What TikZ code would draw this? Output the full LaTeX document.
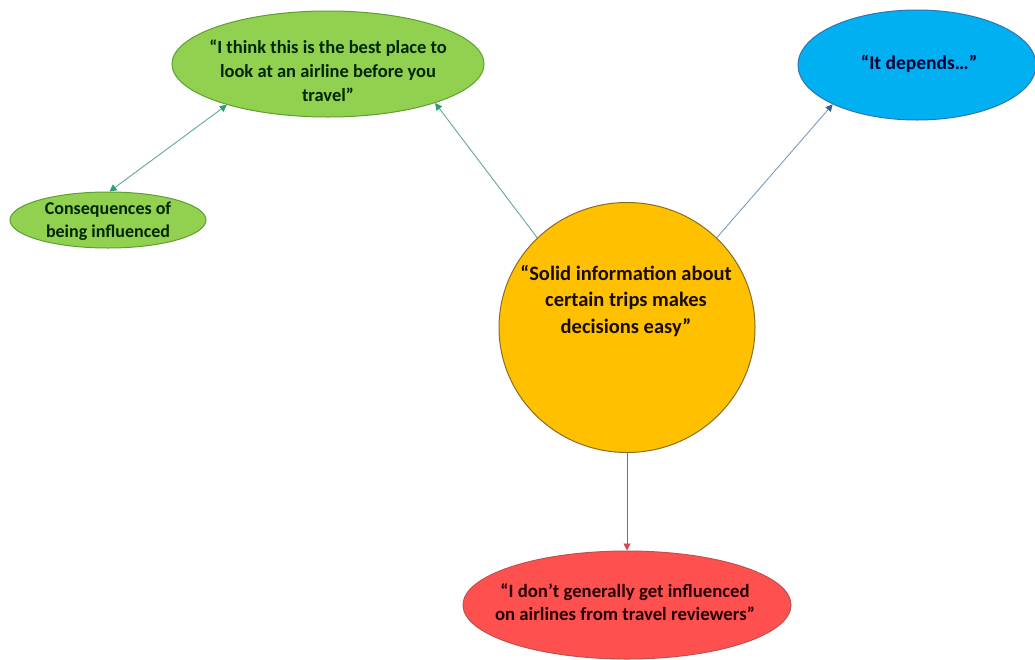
\documentclass[tikz,border=0pt]{standalone}
\usepackage{fontspec}
\setmainfont{Carlito}
\usetikzlibrary{shapes.geometric,arrows.meta}
\definecolor{gfill}{HTML}{92D050}
\definecolor{gline}{HTML}{5E9E32}
\definecolor{bfill}{HTML}{00B0F0}
\definecolor{bline}{HTML}{2E75B6}
\definecolor{ofill}{HTML}{FFC000}
\definecolor{oline}{HTML}{8C6D1F}
\definecolor{rfill}{HTML}{FF5050}
\definecolor{rline}{HTML}{C0504D}
\definecolor{tealarr}{HTML}{5FA9A0}
\definecolor{tealtip}{HTML}{2E9E6E}
\definecolor{bluearr}{HTML}{7A9CC0}
\definecolor{bluetip}{HTML}{3A5F8E}
\definecolor{redarr}{HTML}{D9474A}
\tikzset{
  bubble/.style={ellipse, draw, line width=1pt, inner sep=0pt},
  label/.style={align=center, inner sep=0pt},
  conn/.style={line width=0.9pt},
  tip/.style={-{Triangle[length=7pt,width=7pt,color=#1]}},
}
\begin{document}
\begin{tikzpicture}[x=1pt,y=-1pt]
\useasboundingbox[fill=white] (0,0) rectangle (1035,659);
% shapes
\node[bubble, fill=gfill, draw=gline, minimum width=312pt, minimum height=106pt] (best) at (328,64) {};
\node[bubble, fill=gfill, draw=gline, minimum width=196pt, minimum height=56pt] (cons) at (108,220) {};
\node[bubble, fill=bfill, draw=bline, minimum width=238pt, minimum height=110pt] (dep) at (917,65) {};
\node[bubble, fill=ofill, draw=oline, minimum width=256pt, minimum height=250pt] (solid) at (627,327.5) {};
\node[bubble, fill=rfill, draw=rline, minimum width=328pt, minimum height=108pt] (rev) at (627,605) {};
% texts
\node[label, font=\bfseries\fontsize{18.5}{24}\selectfont, text=black!85!green] (bestt) at (328,71)
  {“I think this is the best place to\\look at an airline before you\\travel”};
\node[label, font=\bfseries\fontsize{18}{23}\selectfont, text=black!85!green] (const) at (108,221)
  {Consequences of\\being influenced};
\node[label, font=\bfseries\fontsize{19.5}{23}\selectfont, text=black!80!blue] (dept) at (919,64)
  {“It depends…”};
\node[label, font=\bfseries\fontsize{20.5}{26.5}\selectfont, text=black!90!orange] (solidt) at (626,301)
  {“Solid information about\\certain trips makes\\decisions easy”};
\node[label, font=\bfseries\fontsize{18.75}{23}\selectfont, text=black!85!red] (revt) at (625,602)
  {“I don’t generally get influenced\\on airlines from travel reviewers”};
% connectors
\draw[conn, draw=tealarr, tip=tealtip] (solid.135) -- (best.340);
\draw[conn, draw=tealarr, {Triangle[length=7pt,width=7pt,color=tealtip]}-{Triangle[length=7pt,width=7pt,color=tealtip]}] (cons.87) -- (best.202);
\draw[conn, draw=bluearr, tip=bluetip] (solid.45) -- (dep.205);
\draw[conn, draw=redarr, tip=redarr] (solid.south) -- (rev.north);
\end{tikzpicture}
\end{document}
